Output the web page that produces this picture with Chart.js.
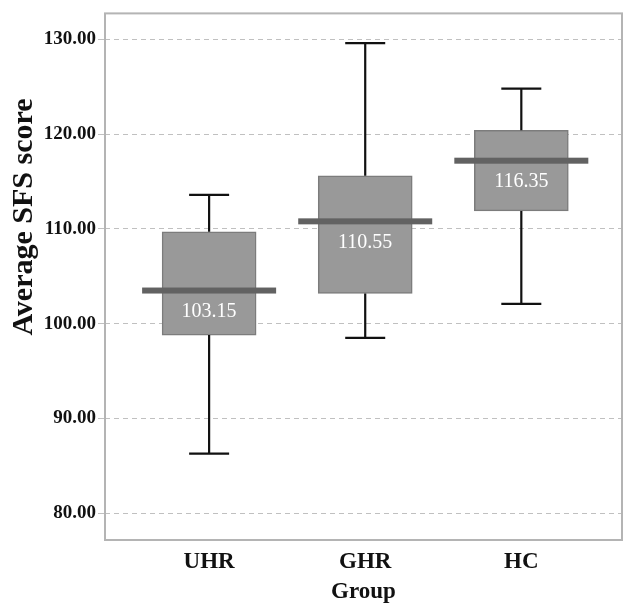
<!DOCTYPE html>
<html>
<head>
<meta charset="utf-8">
<script src="https://cdn.jsdelivr.net/npm/chart.js@4.4.1/dist/chart.umd.min.js"></script>
<style>
  html, body { margin: 0; padding: 0; background: #fff; }
  #wrap { width: 624px; height: 604px; }
</style>
</head>
<body>
<div id="wrap"><canvas id="myChart"></canvas></div>
<script>
// values
var groups = ['UHR', 'GHR', 'HC'];
var whiskerLow = [86.3, 98.5, 102.1];
var boxLow = [98.8, 103.2, 111.9];
var medians = [103.5, 110.8, 117.2];
var boxHigh = [109.7, 115.6, 120.4];
var whiskerHigh = [113.6, 129.6, 124.8];
var medianLabels = ['103.15', '110.55', '116.35'];
var yTicks = [80, 90, 100, 110, 120, 130];

var serif = "'Liberation Serif', 'DejaVu Serif', serif";

var boxData = groups.map(function (g, i) {
  return { x: i + 1, y: [boxLow[i], boxHigh[i]] };
});

var boxPlugin = {
  id: 'boxExtras',
  beforeDatasetsDraw: function (chart) {
    var a = chart.chartArea, ctx = chart.ctx;
    ctx.save();
    ctx.strokeStyle = '#b4b4b4';
    ctx.lineWidth = 2;
    ctx.strokeRect(a.left, a.top, a.right - a.left, a.bottom - a.top);
    ctx.restore();
  },
  afterDatasetsDraw: function (chart) {
    var ctx = chart.ctx;
    var xs = chart.scales.x, ys = chart.scales.y;
    ctx.save();
    for (var i = 0; i < groups.length; i++) {
      var cx = xs.getPixelForValue(i + 1);
      // whiskers
      ctx.strokeStyle = '#111';
      ctx.lineWidth = 2.2;
      ctx.beginPath();
      ctx.moveTo(cx, ys.getPixelForValue(boxHigh[i]));
      ctx.lineTo(cx, ys.getPixelForValue(whiskerHigh[i]));
      ctx.moveTo(cx, ys.getPixelForValue(boxLow[i]));
      ctx.lineTo(cx, ys.getPixelForValue(whiskerLow[i]));
      ctx.moveTo(cx - 20, ys.getPixelForValue(whiskerHigh[i]));
      ctx.lineTo(cx + 20, ys.getPixelForValue(whiskerHigh[i]));
      ctx.moveTo(cx - 20, ys.getPixelForValue(whiskerLow[i]));
      ctx.lineTo(cx + 20, ys.getPixelForValue(whiskerLow[i]));
      ctx.stroke();
      // median bar
      var my = ys.getPixelForValue(medians[i]);
      ctx.fillStyle = '#626262';
      ctx.fillRect(cx - 67, my - 3, 134, 6);
      // label
      ctx.fillStyle = '#ffffff';
      ctx.font = '20px ' + serif;
      ctx.textAlign = 'center';
      ctx.textBaseline = 'middle';
      ctx.fillText(medianLabels[i], cx, my + 21);
    }
    // y axis title
    ctx.translate(24, 217);
    ctx.rotate(-Math.PI / 2);
    ctx.fillStyle = '#111';
    ctx.font = 'bold 30px ' + serif;
    ctx.textAlign = 'center';
    ctx.textBaseline = 'middle';
    ctx.fillText('Average SFS score', 0, 0);
    ctx.restore();
  }
};

var ctx = document.getElementById('myChart').getContext('2d');
var chart = new Chart(ctx, {
  type: 'bar',
  data: {
    datasets: [{
      data: boxData,
      backgroundColor: '#999999',
      borderColor: '#7c7c7c',
      borderWidth: 1.5,
      borderSkipped: false,
      barThickness: 94
    }]
  },
  options: {
    responsive: true,
    maintainAspectRatio: false,
    animation: false,
    layout: { padding: { top: 13, right: 2, left: 0, bottom: 0 } },
    plugins: { legend: { display: false }, tooltip: { enabled: false } },
    scales: {
      x: {
        type: 'linear',
        offset: false,
        min: 0.333,
        max: 3.645,
        afterBuildTicks: function (scale) {
          scale.ticks = groups.map(function (g, i) { return { value: i + 1 }; });
        },
        afterFit: function (scale) { scale.height = 64; },
        grid: { display: false },
        border: { display: false },
        ticks: {
          padding: 0,
          color: '#111',
          font: { family: serif, size: 23, weight: 'bold' },
          callback: function (v) { return groups[v - 1]; }
        },
        title: {
          display: true,
          text: 'Group',
          color: '#111',
          padding: { top: 0, bottom: 0 },
          font: { family: serif, size: 23, weight: 'bold', lineHeight: 1.0 }
        }
      },
      y: {
        min: 77.18,
        max: 132.74,
        afterBuildTicks: function (scale) {
          scale.ticks = yTicks.map(function (v) { return { value: v }; });
        },
        afterFit: function (scale) { scale.width = 105; },
        grid: {
          color: '#c0c0c0',
          lineWidth: 1,
          tickLength: 7,
          tickColor: '#c0c0c0'
        },
        border: { display: false, dash: [5, 4] },
        ticks: {
          padding: 2,
          color: '#111',
          font: { family: serif, size: 19, weight: 'bold' },
          callback: function (v) { return v.toFixed(2); }
        }
      }
    }
  },
  plugins: [boxPlugin]
});
</script>
</body>
</html>
